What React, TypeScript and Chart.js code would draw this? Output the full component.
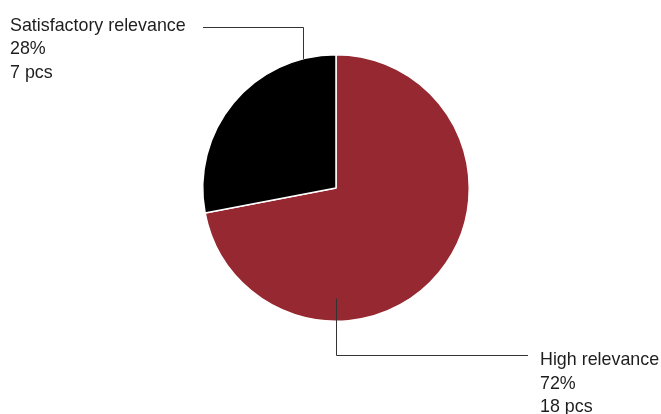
import React, { useEffect, useRef } from "react";
import { Chart, registerables } from "chart.js";

Chart.register(...registerables);

const categories = ["High relevance", "Satisfactory relevance"];
const counts = [18, 7];
const percents = ["72%", "28%"];
const unitLabel = "pcs";
const colors = ["#962831", "#000000"];

const FONT = '19px "Liberation Sans", Arial, sans-serif';
const SX = 0.94;

function drawLabel(ctx: CanvasRenderingContext2D, t: string, x: number, y: number) {
  ctx.save();
  ctx.translate(x, y);
  ctx.scale(SX, 1);
  ctx.fillText(t, 0, 0);
  ctx.restore();
}

const leaderPlugin = {
  id: "leaders",
  afterDatasetsDraw(chart: any) {
    const ctx = chart.ctx as CanvasRenderingContext2D;
    const meta = chart.getDatasetMeta(0);
    const arc0 = meta.data[0] as any;
    const cx = arc0.x;
    const cy = arc0.y;
    const r = arc0.outerRadius;
    ctx.save();
    ctx.strokeStyle = "#333333";
    ctx.lineWidth = 1;
    ctx.font = FONT;
    ctx.fillStyle = "#1e1e1e";
    ctx.textBaseline = "alphabetic";

    // Satisfactory relevance (index 1): top-left
    {
      const lx = cx - 33;
      const ly = cy - Math.sqrt(r * r - 33 * 33);
      const hy = 27.5;
      ctx.beginPath();
      ctx.moveTo(Math.round(lx) + 0.5, ly);
      ctx.lineTo(Math.round(lx) + 0.5, hy);
      ctx.lineTo(203, hy);
      ctx.stroke();
      const lines = [categories[1], percents[1], `${counts[1]} ${unitLabel}`];
      lines.forEach((t, i) => drawLabel(ctx, t, 10, 30.5 + i * 23.6));
    }
    // High relevance (index 0): bottom-right
    {
      const lx = Math.round(cx) + 0.5;
      const ly = cy + r * 0.83;
      const hy = 355.5;
      ctx.beginPath();
      ctx.moveTo(lx, ly);
      ctx.lineTo(lx, hy);
      ctx.lineTo(528, hy);
      ctx.stroke();
      const lines = [categories[0], percents[0], `${counts[0]} ${unitLabel}`];
      lines.forEach((t, i) => drawLabel(ctx, t, 540, 365 + i * 23.5));
    }
    ctx.restore();
  },
};

export default function App() {
  const ref = useRef<HTMLCanvasElement | null>(null);
  useEffect(() => {
    if (!ref.current) return;
    const chart = new Chart(ref.current, {
      type: "pie",
      data: {
        labels: categories,
        datasets: [
          {
            data: counts,
            backgroundColor: colors,
            borderColor: "#ffffff",
            borderWidth: 1.5,
          },
        ],
      },
      options: {
        animation: false,
        responsive: false,
        maintainAspectRatio: false,
        layout: { padding: { top: 54, bottom: 92, left: 11, right: 0 } },
        plugins: {
          legend: { display: false },
          tooltip: { enabled: false },
        },
      },
      plugins: [leaderPlugin],
    });
    return () => chart.destroy();
  }, []);
  return (
    <div style={{ position: "fixed", left: 0, top: 0, width: 661, height: 414, background: "#fff" }}>
      <canvas ref={ref} width={661} height={414} style={{ width: 661, height: 414 }} />
    </div>
  );
}
